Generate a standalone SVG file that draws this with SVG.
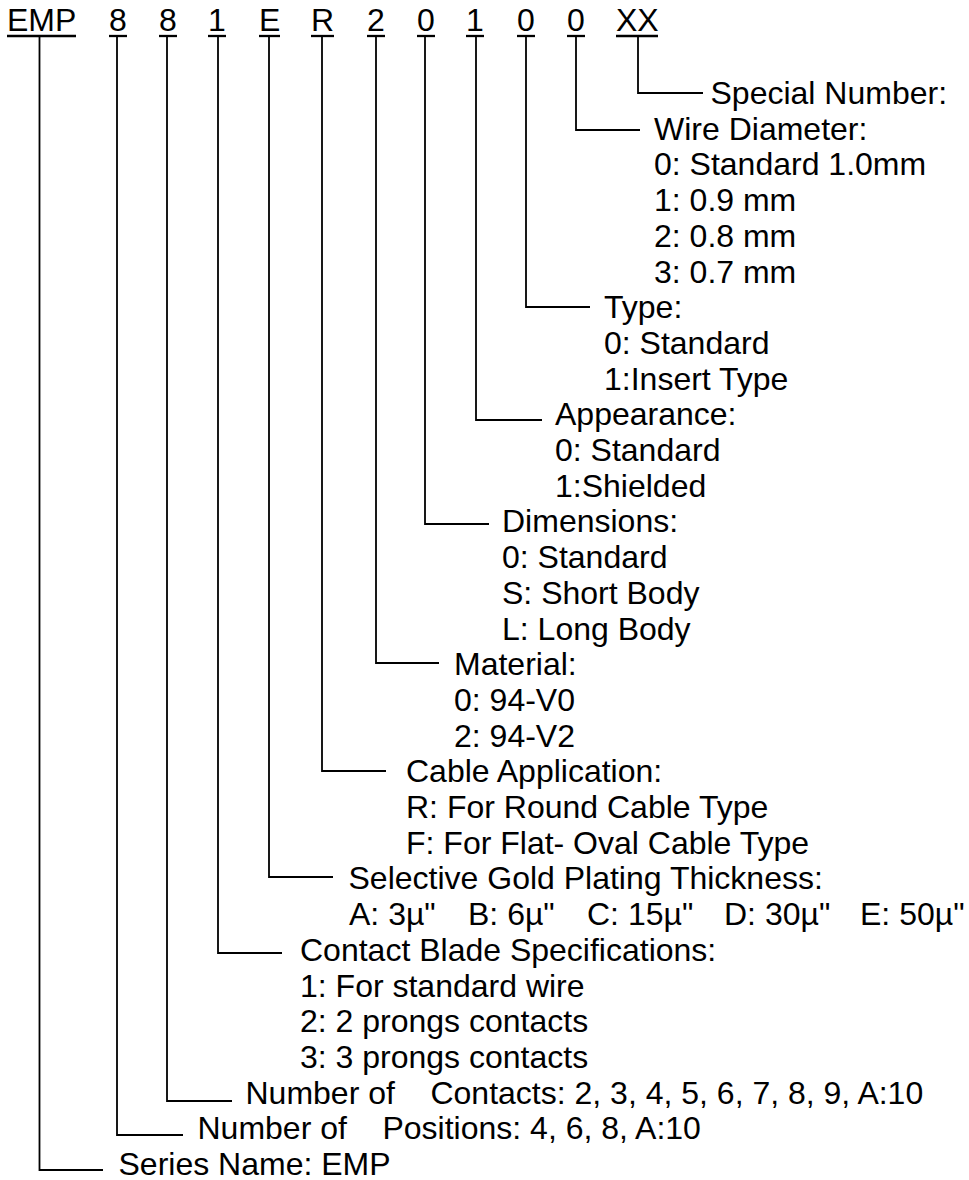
<svg xmlns="http://www.w3.org/2000/svg" width="969" height="1180" viewBox="0 0 969 1180">
<style>
text{font-family:"Liberation Sans",Arial,sans-serif;font-size:32px;fill:#000}
.ul{stroke:#000;stroke-width:2.3;fill:none}
.cn{stroke:#000;stroke-width:1.8;fill:none}
</style>
<rect width="969" height="1180" fill="#fff"/>
<g id="connectors">
<path class="cn" d="M638,37V93H703"/>
<path class="cn" d="M576,37V130H640"/>
<path class="cn" d="M526,37V307H590"/>
<path class="cn" d="M476,37V420H542"/>
<path class="cn" d="M425,37V524H489"/>
<path class="cn" d="M376,37V663H439"/>
<path class="cn" d="M322,37V771H386"/>
<path class="cn" d="M269,37V877H333"/>
<path class="cn" d="M218,37V953H282"/>
<path class="cn" d="M167,37V1101H232"/>
<path class="cn" d="M117,37V1135H183"/>
<path class="cn" d="M39.5,37V1170H103"/>
</g>
<g id="seg-series">
<text x="7" y="31">EMP</text><line class="ul" x1="7" y1="36" x2="76" y2="36"/>
<text x="118.5" y="1175">Series Name: EMP</text>
</g>
<g id="seg-positions">
<text x="109" y="31">8</text><line class="ul" x1="109" y1="36" x2="127" y2="36"/>
<text x="197.5" y="1139.3" xml:space="preserve">Number of    Positions: 4, 6, 8, A:10</text>
</g>
<g id="seg-contacts">
<text x="159" y="31">8</text><line class="ul" x1="159" y1="36" x2="177" y2="36"/>
<text x="245.5" y="1103.6" xml:space="preserve">Number of    Contacts: 2, 3, 4, 5, 6, 7, 8, 9, A:10</text>
</g>
<g id="seg-blade">
<text x="208" y="31">1</text><line class="ul" x1="208" y1="36" x2="226" y2="36"/>
<text x="300" y="960.8">Contact Blade Specifications:</text>
<text x="300" y="996.5">1: For standard wire</text>
<text x="300" y="1032.2">2: 2 prongs contacts</text>
<text x="300" y="1067.9">3: 3 prongs contacts</text>
</g>
<g id="seg-plating">
<text x="259" y="31">E</text><line class="ul" x1="259" y1="36" x2="280" y2="36"/>
<text x="348.5" y="889.4">Selective Gold Plating Thickness:</text>
<text y="925.1"><tspan x="349">A: 3µ"</tspan><tspan x="468">B: 6µ"</tspan><tspan x="587">C: 15µ"</tspan><tspan x="724">D: 30µ"</tspan><tspan x="860">E: 50µ"</tspan></text>
</g>
<g id="seg-cable">
<text x="311" y="31">R</text><line class="ul" x1="311" y1="36" x2="334" y2="36"/>
<text x="406" y="782.3">Cable Application:</text>
<text x="406" y="818">R: For Round Cable Type</text>
<text x="406" y="853.7">F: For Flat- Oval Cable Type</text>
</g>
<g id="seg-material">
<text x="367" y="31">2</text><line class="ul" x1="367" y1="36" x2="385" y2="36"/>
<text x="454" y="675.2">Material:</text>
<text x="454" y="710.9">0: 94-V0</text>
<text x="454" y="746.6">2: 94-V2</text>
</g>
<g id="seg-dimensions">
<text x="417" y="31">0</text><line class="ul" x1="417" y1="36" x2="435" y2="36"/>
<text x="502" y="532.4">Dimensions:</text>
<text x="502" y="568.1">0: Standard</text>
<text x="502" y="603.8">S: Short Body</text>
<text x="502" y="639.5">L: Long Body</text>
</g>
<g id="seg-appearance">
<text x="466" y="31">1</text><line class="ul" x1="466" y1="36" x2="484" y2="36"/>
<text x="555" y="425.3">Appearance:</text>
<text x="555" y="461">0: Standard</text>
<text x="555" y="496.7">1:Shielded</text>
</g>
<g id="seg-type">
<text x="517" y="31">0</text><line class="ul" x1="517" y1="36" x2="535" y2="36"/>
<text x="604" y="318.2">Type:</text>
<text x="604" y="353.9">0: Standard</text>
<text x="604" y="389.6">1:Insert Type</text>
</g>
<g id="seg-wire">
<text x="567" y="31">0</text><line class="ul" x1="567" y1="36" x2="585" y2="36"/>
<text x="654" y="139.7">Wire Diameter:</text>
<text x="654" y="175.4">0: Standard 1.0mm</text>
<text x="654" y="211.1">1: 0.9 mm</text>
<text x="654" y="246.8">2: 0.8 mm</text>
<text x="654" y="282.5">3: 0.7 mm</text>
</g>
<g id="seg-special">
<text x="616" y="31">XX</text><line class="ul" x1="616" y1="36" x2="658" y2="36"/>
<text x="710.5" y="104">Special Number:</text>
</g>
</svg>
